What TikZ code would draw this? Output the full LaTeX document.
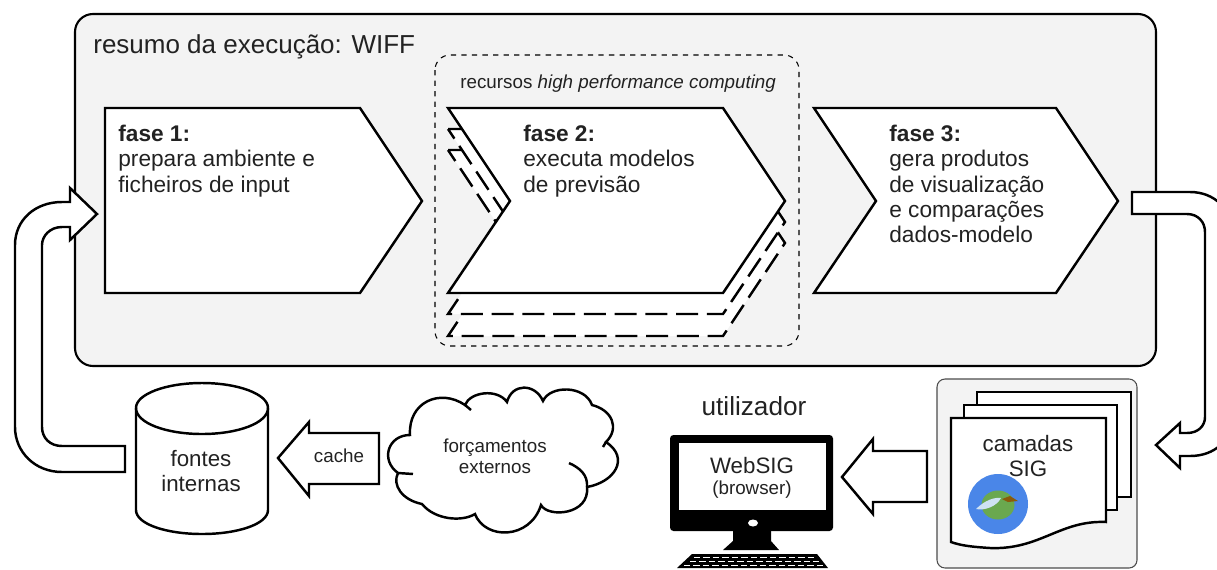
\documentclass[tikz,border=0pt]{standalone}
\usepackage{fontspec}
\setmainfont{Liberation Sans}
\definecolor{panelgray}{HTML}{F3F3F3}
\definecolor{inktext}{HTML}{222222}
\definecolor{logoblue}{HTML}{4A86E8}
\definecolor{logogreen}{HTML}{6AA84F}
\definecolor{logobrown}{HTML}{8A5A0B}
\definecolor{logofeather}{HTML}{CFE2F3}
\tikzset{
    shapeline/.style={draw=black, line width=1.4pt, line join=miter, fill=white},
    stagetext/.style={anchor=north west, align=left, text=inktext, font=\fontsize{12.9}{14.3}\selectfont, inner sep=0pt},
    plaintext/.style={align=center, text=inktext, inner sep=0pt, font=\fontsize{12.7}{14.3}\selectfont},
    smalltext/.style={align=center, text=inktext, inner sep=0pt, font=\fontsize{10.7}{12}\selectfont},
    copyline/.style={shapeline, dash pattern=on 12.5pt off 5pt}
}
\begin{document}
\begin{tikzpicture}[x=0.02cm, y=-0.02cm]
    \useasboundingbox (0,0) rectangle (1217,569);
    \clip (0,0) rectangle (1217,569);

    % main panel
    \draw[draw=black, line width=1.2pt, fill=panelgray, rounded corners=0.36cm] (75,14) rectangle (1156,366);
    \node[anchor=west, text=inktext, inner sep=0pt, font=\fontsize{14.8}{16}\selectfont] (title) at (93,47) {resumo da execução: WIFF};
    \draw[draw=black, line width=0.6pt, dashed, rounded corners=0.3cm] (435,55) rectangle (799,346);
    \node[smalltext, anchor=west] (hpc) at (460,84) {recursos \textit{high performance computing}};

    % fases
    \draw[shapeline] (105,108) -- (360,108) -- (422,201) -- (360,293) -- (105,293) -- cycle;
    \node[stagetext] (fase1) at (118,125) {\textbf{fase 1:}\\prepara ambiente e\\ficheiros de input};

    \draw[copyline] (448,150) -- (723,150) -- (785,243) -- (723,336) -- (448,336) -- (510,243) -- cycle;
    \draw[copyline] (448,129) -- (723,129) -- (785,222) -- (723,314) -- (448,314) -- (510,222) -- cycle;
    \draw[shapeline] (448,108) -- (723,108) -- (785,201) -- (723,293) -- (448,293) -- (510,201) -- cycle;
    \node[stagetext] (fase2) at (523,125) {\textbf{fase 2:}\\executa modelos\\de previsão};

    \draw[shapeline] (814,108) -- (1056,108) -- (1118,201) -- (1056,293) -- (814,293) -- (876,201) -- cycle;
    \node[stagetext] (fase3) at (889,125) {\textbf{fase 3:}\\gera produtos\\de visualização\\e comparações\\dados-modelo};

    % curved arrows
    \draw[shapeline] (125,472) -- (62,472) .. controls (35,472) and (15,452) .. (15,427) -- (15,245) .. controls (15,220) and (35,202) .. (62,202)
        -- (70,202) -- (70,188) -- (97,214) -- (70,240) -- (70,227) -- (62,227) .. controls (50,227) and (42,236) .. (42,245)
        -- (42,427) .. controls (42,438) and (50,446) .. (62,446) -- (125,446) -- cycle;
    \draw[shapeline] (1132,192) -- (1190,192) .. controls (1215,192) and (1232,210) .. (1232,232) -- (1232,417) .. controls (1232,440) and (1215,456) .. (1190,456)
        -- (1180,456) -- (1180,468) -- (1156,445) -- (1180,423) -- (1180,433) -- (1187,433) .. controls (1198,433) and (1205,426) .. (1205,417)
        -- (1205,232) .. controls (1205,222) and (1198,214) .. (1187,214) -- (1132,214) -- cycle;

    % fontes internas
    \draw[shapeline] (136,408) -- (136,510) .. controls (136,524) and (166,534) .. (202,534) .. controls (238,534) and (268,524) .. (268,510) -- (268,408)
        .. controls (268,394) and (238,383) .. (202,383) .. controls (166,383) and (136,394) .. (136,408) -- cycle;
    \draw[shapeline, fill=none] (136,408) .. controls (136,423) and (166,434) .. (202,434) .. controls (238,434) and (268,423) .. (268,408);
    \node[plaintext] (fontes) at (201,471) {fontes\\internas};

    % cache
    \draw[shapeline] (278,458) -- (309,422) -- (309,433) -- (379,433) -- (379,484) -- (309,484) -- (309,496) -- cycle;
    \node[smalltext] (cache) at (339,456) {cache};

    % cloud
    \draw[shapeline] (410,435) .. controls (408,402) and (440,388) .. (465,405) .. controls (470,392) and (497,388) .. (507,402)
        .. controls (512,383) and (535,383) .. (543,401) .. controls (550,385) and (585,385) .. (592,405)
        .. controls (612,410) and (620,428) .. (606,442) .. controls (630,458) and (615,482) .. (587,487)
        .. controls (590,515) and (548,518) .. (541,505) .. controls (530,540) and (485,540) .. (475,514)
        .. controls (462,522) and (435,520) .. (422,504) .. controls (402,500) and (392,485) .. (398,473)
        .. controls (380,460) and (388,435) .. (410,435) -- cycle;
    \draw[shapeline, fill=none] (398,473) -- (413,474);
    \draw[shapeline, fill=none] (465,405) -- (471,410);
    \draw[shapeline, fill=none] (606,442) -- (603,447);
    \draw[shapeline, fill=none] (587,487) .. controls (588,475) and (580,468) .. (569,463);
    \node[smalltext] (forcing) at (495,456) {forçamentos\\externos};

    % utilizador
    \node[text=inktext, inner sep=0pt, font=\fontsize{14.9}{16}\selectfont] (user) at (754,406) {utilizador};
    \draw[fill=black, draw=none, rounded corners=0.07cm] (670,435) rectangle (833,531);
    \fill[white] (679,443) rectangle (826,510);
    \fill[white] (753,523) ellipse [x radius=5, y radius=3.5];
    \fill[black] (733,531) -- (771,531) -- (771,541) -- (779,550) -- (723,550) -- (733,541) -- cycle;
    \fill[black] (692,554) -- (817,554) -- (828,568) -- (677,568) -- cycle;
    \draw[white, line width=0.9pt, dash pattern=on 3.6pt off 1.8pt] (694,557.5) -- (815,557.5);
    \draw[white, line width=0.9pt, dash pattern=on 3.6pt off 1.8pt] (690,561.5) -- (819,561.5);
    \draw[white, line width=0.9pt, dash pattern=on 3.6pt off 1.8pt] (684,565.5) -- (823,565.5);
    \node[plaintext] (websig) at (752,466) {WebSIG};
    \node[smalltext] (browser) at (752,490) {(browser)};

    \draw[shapeline] (842,477) -- (873,439) -- (873,451) -- (927,451) -- (927,502) -- (873,502) -- (873,514) -- cycle;

    % camadas SIG
    \draw[draw=black!70, line width=0.6pt, fill=panelgray, rounded corners=0.16cm] (937,379) rectangle (1137,568);
    \draw[shapeline] (977,392) rectangle (1131,497);
    \draw[shapeline] (964,405) rectangle (1117,510);
    \draw[shapeline] (951,418) -- (1106,418) -- (1106,522) .. controls (1060,520) and (1040,550) .. (990,548) .. controls (975,547) and (962,546) .. (951,542) -- cycle;
    \node[plaintext] (camadas) at (1028,456) {camadas\\SIG};
    \fill[logoblue] (998,504) circle [radius=30];
    \fill[logogreen] (998,505) ellipse [x radius=16.5, y radius=14.5];
    \fill[logofeather] (976,509) .. controls (985,500) and (995,497) .. (1001,498) .. controls (997,506) and (985,511) .. (976,509) -- cycle;
    \fill[logobrown] (1002,499) -- (1010,496) -- (1018,501) -- (1008,502) -- cycle;

\end{tikzpicture}
\end{document}
